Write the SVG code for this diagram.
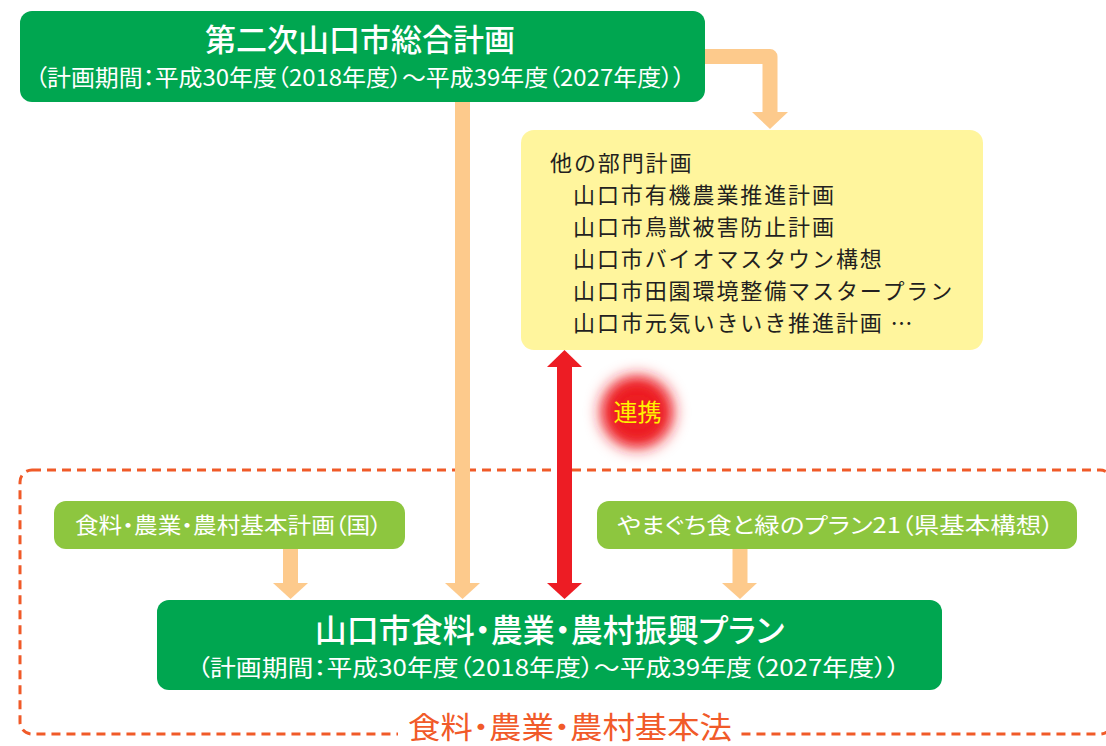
<svg xmlns="http://www.w3.org/2000/svg" width="1106" height="746" viewBox="0 0 1106 746">
<defs>
<style>
text{font-family:"Noto Sans CJK JP","Noto Sans",sans-serif;}
.pal{font-feature-settings:"palt";}
.dg{fill:#00A650;}
.lg{fill:#8DC63F;}
.wt{fill:#FFFFFF;}
.ow{fill:none;stroke:#FDCA8C;stroke-width:15;}
.oh{fill:#FDCA8C;}
.rd{fill:#ED1C24;}
.yt{fill:#231F20;font-size:22px;letter-spacing:1.9px;}
</style>
<filter id="glow" x="-1" y="-1" width="3" height="3"><feGaussianBlur stdDeviation="8"/></filter>
</defs>

<g id="frame">
<rect x="20" y="470" width="1092" height="264" rx="12" fill="none" stroke="#F05A28" stroke-width="3" stroke-dasharray="9 6"/>
<rect x="398" y="722" width="342" height="24" fill="#FFFFFF"/>
<text x="408" y="738" class="pal" font-size="30" fill="#F15A29" textLength="324" lengthAdjust="spacingAndGlyphs">食料・農業・農村基本法</text>
</g>

<g id="connectors">
<path class="ow" d="M705,56.5 H770 V113" stroke-linejoin="round"/>
<polygon class="oh" points="752,112 788,112 770,129"/>
<line class="ow" x1="462.5" y1="102" x2="462.5" y2="584"/>
<polygon class="oh" points="445,583 480,583 462.5,599"/>
<line class="ow" x1="290.5" y1="549" x2="290.5" y2="584"/>
<polygon class="oh" points="273,583 308,583 290.5,599"/>
<line class="ow" x1="740" y1="549" x2="740" y2="584"/>
<polygon class="oh" points="722,583 757,583 740,599"/>
<rect class="rd" x="557" y="366" width="15" height="218"/>
<polygon class="rd" points="547,367 582,367 564.5,350"/>
<polygon class="rd" points="547,583 582,583 564.5,599"/>
</g>

<g id="renkei">
<circle cx="637" cy="412" r="36" fill="#ED1C24" filter="url(#glow)"/>
<circle cx="637" cy="412" r="26" fill="#ED1C24" filter="url(#glow)"/>
<text x="637.5" y="421" text-anchor="middle" font-size="24" fill="#FFF200">連携</text>
</g>

<g id="top-plan">
<rect class="dg" x="20" y="11" width="685" height="91" rx="12"/>
<text x="360" y="51" text-anchor="middle" class="wt" font-size="31" font-weight="500">第二次山口市総合計画</text>
<text x="35" y="86" class="wt pal" font-size="23" textLength="650" lengthAdjust="spacingAndGlyphs">（計画期間：平成30年度（2018年度）～平成39年度（2027年度））</text>
</g>

<g id="other-plans">
<rect x="521" y="130" width="462" height="220" rx="13" fill="#FFF59D"/>
<text x="550" y="171" class="yt">他の部門計画</text>
<text x="573" y="203" class="yt">山口市有機農業推進計画</text>
<text x="573" y="235" class="yt">山口市鳥獣被害防止計画</text>
<text x="573" y="267" class="yt">山口市バイオマスタウン構想</text>
<text x="573" y="299" class="yt">山口市田園環境整備マスタープラン</text>
<text x="573" y="331" class="yt">山口市元気いきいき推進計画 …</text>
</g>

<g id="national-plan">
<rect class="lg" x="54" y="501" width="351" height="48" rx="12"/>
<text x="75" y="533" class="wt pal" font-size="22" textLength="307" lengthAdjust="spacingAndGlyphs">食料・農業・農村基本計画（国）</text>
</g>

<g id="prefecture-plan">
<rect class="lg" x="597" y="501" width="480" height="48" rx="12"/>
<text x="617" y="533" class="wt pal" font-size="22" textLength="437" lengthAdjust="spacingAndGlyphs">やまぐち食と緑のプラン21（県基本構想）</text>
</g>

<g id="city-plan">
<rect class="dg" x="157" y="600" width="785" height="90" rx="12"/>
<text x="549.5" y="642" text-anchor="middle" class="wt pal" font-size="32" font-weight="500">山口市食料・農業・農村振興プラン</text>
<text x="197" y="676" class="wt pal" font-size="23" textLength="703" lengthAdjust="spacingAndGlyphs">（計画期間：平成30年度（2018年度）～平成39年度（2027年度））</text>
</g>
</svg>
